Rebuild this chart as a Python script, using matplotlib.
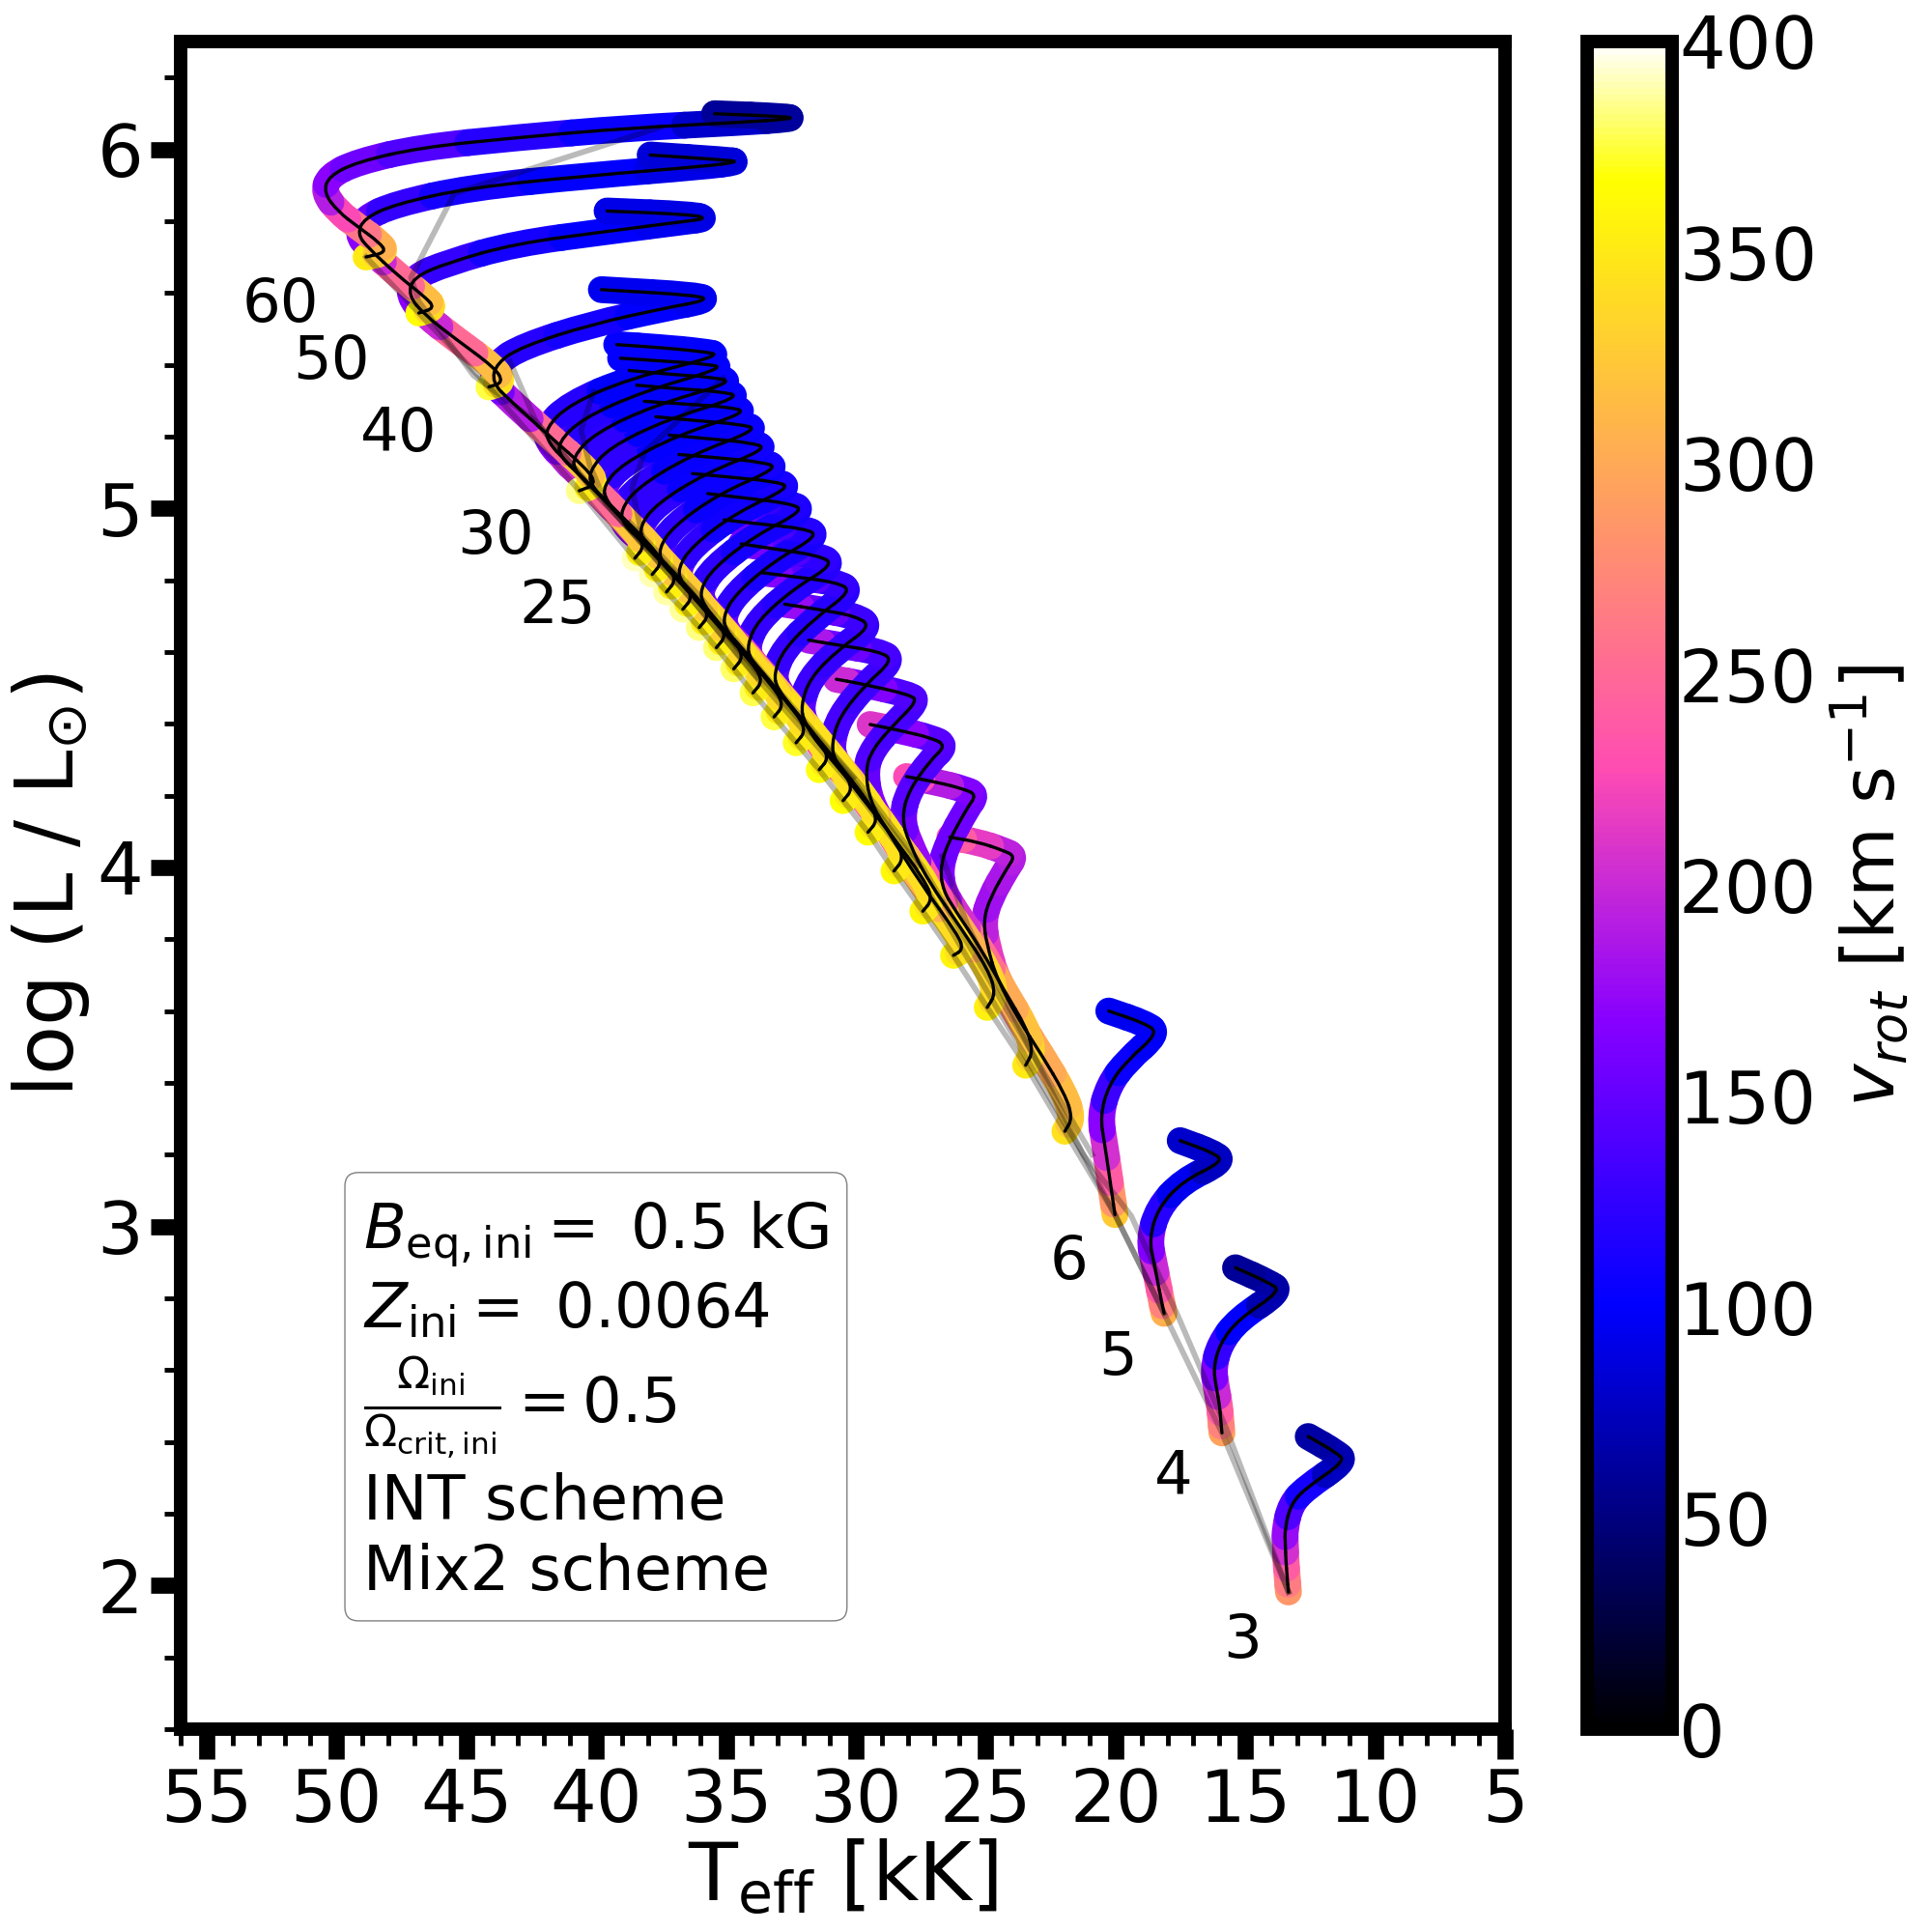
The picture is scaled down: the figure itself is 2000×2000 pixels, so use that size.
import numpy as np
import matplotlib
matplotlib.use("Agg")
import matplotlib.pyplot as plt
from matplotlib.path import Path
from matplotlib.collections import PathCollection
from matplotlib.colors import Normalize
from matplotlib.cm import ScalarMappable
from matplotlib.ticker import MultipleLocator

# Values: Teff [kK], log L, vrot [km/s] at hand-read knots of each track.
T3 = [13.34,13.39,13.44,13.46,13.48,13.25,12.68,11.16,11.49,12.58]
L3 = [1.982,2.025,2.071,2.115,2.157,2.226,2.271,2.346,2.370,2.415]
V3 = [285,265,240,205,175,140,110,75,70,65]
T4 = [15.90,15.95,15.99,16.12,16.23,15.99,15.28,13.63,14.10,15.38]
L4 = [2.425,2.463,2.501,2.552,2.604,2.672,2.741,2.820,2.844,2.885]
V4 = [295,270,240,200,165,125,100,70,65,60]
T5 = [18.13,18.25,18.37,18.52,18.70,18.37,17.42,15.85,16.23,17.51]
L5 = [2.758,2.800,2.844,2.900,2.964,3.050,3.126,3.181,3.205,3.239]
V5 = [305,270,235,200,165,120,95,75,75,80]
T6 = [20.02,20.14,20.26,20.42,20.59,20.26,19.55,18.36,18.84,20.26]
L6 = [3.033,3.092,3.153,3.230,3.308,3.394,3.462,3.538,3.565,3.600]
V6 = [325,285,240,205,170,130,105,98,98,95]
T7 = [21.95,21.65,21.95,22.87,23.72,24.57,24.94,25.09,24.83,24.17,23.87,24.31,25.31,26.38]
L7 = [3.265,3.302,3.369,3.481,3.575,3.690,3.781,3.851,3.915,3.999,4.031,4.047,4.071,4.084]
V7 = [345,325,315,300,270,240,215,195,180,185,190,195,215,240]
T8 = [23.46,23.17,23.43,24.28,25.20,26.20,26.64,26.75,26.49,25.72,25.35,25.83,26.86,28.05]
L8 = [3.449,3.487,3.554,3.656,3.776,3.883,3.937,3.996,4.063,4.165,4.202,4.218,4.237,4.253]
V8 = [350,335,320,300,255,205,180,165,155,155,158,165,190,225]
T9 = [24.94,24.61,24.90,25.94,27.23,27.97,28.23,27.97,27.12,26.53,27.05,28.34,29.45]
L9 = [3.610,3.648,3.715,3.830,3.964,4.071,4.138,4.213,4.299,4.339,4.360,4.382,4.398]
V9 = [355,340,335,305,235,175,155,145,140,140,145,170,210]
T10 = [26.24,25.87,26.05,27.53,28.79,29.45,29.64,29.34,28.53,27.64,27.90,29.90,30.75]
L10 = [3.755,3.771,3.811,3.958,4.103,4.183,4.272,4.331,4.398,4.462,4.481,4.513,4.524]
V10 = [358,345,340,310,235,170,150,140,135,135,140,165,200]
T11 = [27.42,27.05,27.34,28.71,30.19,30.82,30.93,30.64,29.64,28.57,29.08,30.75,31.82]
L11 = [3.878,3.910,3.964,4.098,4.232,4.299,4.344,4.419,4.508,4.577,4.601,4.620,4.633]
V11 = [360,348,342,312,230,170,148,135,130,130,135,155,185]
T12 = [28.53,28.16,28.45,29.82,31.41,32.00,32.11,31.78,30.67,29.41,30.01,31.48,32.74]
L12 = [3.990,4.023,4.076,4.205,4.339,4.406,4.451,4.526,4.607,4.671,4.700,4.719,4.733]
V12 = [362,350,345,315,230,168,145,130,125,125,130,150,175]
T13 = [29.53,29.16,29.45,30.93,32.41,33.04,33.15,32.78,31.56,30.15,30.75,32.22,33.63]
L13 = [4.098,4.130,4.178,4.312,4.441,4.500,4.540,4.607,4.695,4.770,4.794,4.808,4.821]
V13 = [365,352,345,315,225,165,145,128,120,120,125,145,165]
T14 = [30.49,30.12,30.45,31.86,33.41,34.07,34.18,33.78,32.41,30.82,31.48,32.96,34.41]
L14 = [4.186,4.218,4.266,4.392,4.526,4.580,4.620,4.687,4.775,4.845,4.869,4.885,4.901]
V14 = [368,352,345,315,225,165,145,125,118,118,122,140,160]
T15 = [31.41,31.04,31.37,32.78,34.33,35.00,35.11,34.63,33.15,31.41,32.04,33.52,35.07]
L15 = [4.272,4.304,4.352,4.473,4.607,4.660,4.700,4.762,4.853,4.925,4.944,4.955,4.968]
V15 = [370,352,345,312,220,165,145,122,112,112,118,135,155]
T16 = [32.30,31.93,32.22,33.70,35.26,35.88,36.00,35.48,33.89,31.97,32.59,34.07,35.70]
L16 = [4.347,4.379,4.424,4.548,4.679,4.733,4.773,4.834,4.923,4.995,5.014,5.027,5.041]
V16 = [372,352,342,310,220,165,145,122,110,110,115,128,145]
T17 = [33.15,32.78,33.11,34.55,36.11,36.73,36.85,36.29,34.63,32.48,33.15,34.74,36.29]
L17 = [4.419,4.451,4.497,4.615,4.743,4.794,4.834,4.896,4.987,5.059,5.075,5.086,5.097]
V17 = [375,352,340,305,215,165,148,122,108,108,112,122,135]
T18 = [33.96,33.59,33.89,35.37,36.85,37.47,37.59,37.03,35.26,32.96,33.63,35.18,36.81]
L18 = [4.486,4.518,4.561,4.679,4.802,4.848,4.888,4.950,5.041,5.113,5.129,5.140,5.150]
V18 = [378,352,338,300,215,165,148,122,106,106,110,118,125]
T19 = [34.70,34.33,34.63,36.11,37.59,38.21,38.32,37.70,35.81,33.37,34.07,35.55,37.18]
L19 = [4.553,4.585,4.628,4.741,4.861,4.909,4.950,5.011,5.097,5.167,5.183,5.193,5.204]
V19 = [380,352,335,295,210,165,148,122,105,105,108,115,118]
T20 = [35.37,35.00,35.29,36.77,38.25,38.95,39.06,38.40,36.36,33.74,34.44,36.11,37.70]
L20 = [4.612,4.644,4.684,4.794,4.909,4.955,4.995,5.059,5.148,5.220,5.234,5.244,5.255]
V20 = [382,354,330,285,210,168,150,122,104,104,106,110,112]
T21 = [36.03,35.66,35.96,37.40,38.88,39.62,39.73,38.99,36.85,34.15,34.89,36.48,38.14]
L21 = [4.668,4.700,4.741,4.848,4.960,5.022,5.062,5.124,5.204,5.268,5.282,5.290,5.298]
V21 = [384,354,328,280,205,168,150,122,103,103,105,108,108]
T22 = [36.66,36.29,36.59,38.07,39.51,40.17,40.28,39.51,37.29,34.41,35.18,36.85,38.44]
L22 = [4.719,4.751,4.792,4.899,5.011,5.062,5.102,5.169,5.247,5.311,5.325,5.333,5.343]
V22 = [386,355,325,270,205,168,150,122,102,102,104,106,106]
T23 = [37.29,36.92,37.22,38.69,40.10,40.80,40.91,40.06,37.77,34.70,35.48,37.11,38.73]
L23 = [4.767,4.800,4.840,4.947,5.054,5.102,5.142,5.209,5.287,5.351,5.365,5.373,5.384]
V23 = [388,355,322,265,200,168,150,122,102,102,103,104,104]
T24 = [37.84,37.47,37.77,39.25,40.65,41.36,41.47,40.54,38.21,35.03,35.81,37.40,39.06]
L24 = [4.816,4.848,4.888,4.995,5.094,5.142,5.183,5.250,5.325,5.392,5.402,5.410,5.418]
V24 = [390,356,322,258,200,168,150,120,101,101,102,103,103]
T25 = [38.51,38.14,38.44,39.80,41.21,41.84,41.95,41.02,38.69,35.15,35.92,37.59,39.21]
L25 = [4.861,4.893,4.934,5.035,5.134,5.183,5.223,5.290,5.362,5.426,5.437,5.448,5.456]
V25 = [392,356,322,250,200,168,150,120,100,100,101,102,102]
T30 = [40.65,39.99,40.36,41.80,43.28,44.02,43.83,42.83,40.21,37.33,35.74,36.03,39.80]
L30 = [5.049,5.067,5.110,5.201,5.298,5.351,5.405,5.451,5.512,5.558,5.579,5.593,5.609]
V30 = [385,350,320,250,190,160,135,120,110,100,95,95,95]
T40 = [44.13,43.57,43.91,45.42,46.61,47.23,47.05,45.72,43.13,39.51,36.59,35.74,36.29,39.58]
L40 = [5.338,5.351,5.392,5.472,5.539,5.593,5.643,5.684,5.737,5.772,5.799,5.807,5.818,5.828]
V40 = [375,345,315,250,200,170,150,125,110,100,95,92,90,92]
T50 = [46.83,46.20,46.61,47.60,48.79,49.19,48.94,47.75,44.87,40.21,35.89,34.48,35.00,37.92]
L50 = [5.544,5.558,5.590,5.646,5.726,5.764,5.807,5.847,5.893,5.927,5.952,5.965,5.970,5.984]
V50 = [365,340,315,250,200,170,150,125,110,100,92,88,85,85]
T60 = [48.86,48.08,48.34,49.19,49.93,50.49,50.30,49.19,46.75,43.13,38.77,34.41,32.41,32.67,35.44]
L60 = [5.700,5.713,5.740,5.785,5.826,5.879,5.925,5.965,6.005,6.032,6.059,6.075,6.085,6.091,6.099]
V60 = [350,325,305,260,225,190,170,155,140,120,105,80,65,62,60]

TRACKS = [(T3,L3,V3),(T4,L4,V4),(T5,L5,V5),(T6,L6,V6),(T7,L7,V7),(T8,L8,V8),(T9,L9,V9),
          (T10,L10,V10),(T11,L11,V11),(T12,L12,V12),(T13,L13,V13),(T14,L14,V14),(T15,L15,V15),
          (T16,L16,V16),(T17,L17,V17),(T18,L18,V18),(T19,L19,V19),(T20,L20,V20),(T21,L21,V21),
          (T22,L22,V22),(T23,L23,V23),(T24,L24,V24),(T25,L25,V25),(T30,L30,V30),(T40,L40,V40),
          (T50,L50,V50),(T60,L60,V60)]

# Isochrones (grey)
ISO_ZT = [13.34,15.90,18.13,20.02,21.95,23.46,24.94,26.24,27.42,28.53,29.53,30.49,31.41,32.30,33.15,33.96,34.70,35.37,36.03,36.66,37.29,37.84,38.51,40.65,44.13,46.83,48.86]
ISO_ZL = [1.982,2.425,2.758,3.033,3.265,3.449,3.610,3.755,3.878,3.990,4.098,4.186,4.272,4.347,4.419,4.486,4.553,4.612,4.668,4.719,4.767,4.816,4.861,5.049,5.338,5.544,5.700]
ISO_AT = [13.34,15.75,17.65,19.40,21.24,27.79,30.26,33.96,36.40,40.17,42.32,44.72,46.83,47.13,45.46,37.55]
ISO_AL = [1.982,2.440,2.760,3.030,3.200,4.004,4.237,4.540,4.754,5.057,5.242,5.370,5.576,5.643,5.877,6.061]
ISO_BT = [27.60,30.05,33.75,36.20,39.90,42.32,43.31]
ISO_BL = [4.004,4.237,4.540,4.754,5.030,5.242,5.408]
ISO_CT = [33.80,36.25,39.62,40.25,40.58,40.10]
ISO_CL = [4.530,4.740,5.014,5.121,5.217,5.325]
ISO_DT = [30.10,33.80,36.90,38.18,38.62,38.14,35.11]
ISO_DL = [4.250,4.550,4.815,4.907,5.057,5.156,5.362]
ISO_ET = [18.13,20.02,21.24,24.35,25.68,26.68]
ISO_EL = [2.758,3.033,3.200,3.648,3.835,4.031]
ISO_FT = [20.90,27.45,29.90,33.55,36.00,38.70]
ISO_FL = [3.200,4.004,4.237,4.540,4.754,4.960]
ISOS = [(ISO_ZT,ISO_ZL),(ISO_AT,ISO_AL),(ISO_BT,ISO_BL),(ISO_CT,ISO_CL),(ISO_DT,ISO_DL),(ISO_ET,ISO_EL),(ISO_FT,ISO_FL)]

MASS_LABELS = ["60","50","40","30","25","6","5","4","3"]
MASS_T = [52.16,50.2,47.6,43.86,41.5,21.8,19.93,17.75,15.1]
MASS_L = [5.565,5.407,5.204,4.92,4.725,2.9,2.632,2.3,1.846]

X_TICKS = [55,50,45,40,35,30,25,20,15,10,5]
Y_TICKS = [2,3,4,5,6]
CB_TICKS = [0,50,100,150,200,250,300,350,400]

FS = 54
W = 2000.0
fig = plt.figure(figsize=(20,20), dpi=100)
ax = fig.add_axes([187/W, 1-1790/W, (1558-187)/W, (1790-43)/W])
cax = fig.add_axes([1643/W, 1-1790/W, (1731-1643)/W, (1790-43)/W])
cmap = plt.get_cmap("gnuplot2")
norm = Normalize(0, 400)


def smooth_pieces(x, y):
    """Quadratic Bezier piece around each knot, joined at the middles of the chords."""
    pieces = []
    n = len(x)
    for i in range(n):
        x0, y0 = (x[0], y[0]) if i == 0 else ((x[i-1]+x[i])/2, (y[i-1]+y[i])/2)
        x2, y2 = (x[-1], y[-1]) if i == n-1 else ((x[i]+x[i+1])/2, (y[i]+y[i+1])/2)
        pieces.append(Path([(x0,y0),(x[i],y[i]),(x2,y2)], [Path.MOVETO, Path.CURVE3, Path.CURVE3]))
    return pieces


for t, l, v in TRACKS:
    pc = PathCollection(smooth_pieces(t, l), facecolors="none", edgecolors=cmap(norm(v)),
                        linewidths=20, zorder=2, capstyle="round", joinstyle="round")
    pc.set_transform(ax.transData)
    ax.add_collection(pc)
for t, l, v in TRACKS:
    pc = PathCollection(smooth_pieces(t, l), facecolors="none", edgecolors="black",
                        linewidths=2.4, zorder=3, capstyle="round")
    pc.set_transform(ax.transData)
    ax.add_collection(pc)
for t, l in ISOS:
    ax.plot(t, l, color="black", alpha=0.27, lw=4.2, zorder=4, solid_joinstyle="round")

for s, t, l in zip(MASS_LABELS, MASS_T, MASS_L):
    ax.text(t, l, s, fontsize=45, ha="center", va="center", zorder=5)

ax.set_xlim(56, 5)
ax.set_ylim(1.6, 6.3)
ax.set_xticks(X_TICKS)
ax.set_yticks(Y_TICKS)
ax.xaxis.set_minor_locator(MultipleLocator(1))
ax.yaxis.set_minor_locator(MultipleLocator(0.2))
ax.tick_params(which="major", length=22, width=12, labelsize=FS, pad=6)
ax.tick_params(which="minor", length=12, width=3.5)
for s in ax.spines.values():
    s.set_linewidth(10)
ax.set_xlabel(r"T$_{\rm eff}$ [kK]", fontsize=60, labelpad=0)
ax.set_ylabel(r"log (L / L$_{\odot}$)", fontsize=60, labelpad=4)

box = "\n".join([r"$B_{\rm eq,ini} =$ 0.5 kG", r"$Z_{\rm ini} =$ 0.0064",
                 r"$\frac{\Omega_{\rm ini}}{\Omega_{\rm crit,ini}} = 0.5$", "INT scheme", "Mix2 scheme"])
ax.text(0.138, 0.314, box, transform=ax.transAxes, fontsize=46, va="top", ha="left", zorder=6,
        linespacing=1.22,
        bbox=dict(boxstyle="round,pad=0.3,rounding_size=0.22", fc="white", ec="gray", lw=1))

cb = fig.colorbar(ScalarMappable(norm=norm, cmap=cmap), cax=cax, ticks=CB_TICKS)
cb.outline.set_linewidth(10)
cax.tick_params(length=0, labelsize=FS, pad=5)
cb.set_label(r"$v_{rot}$ [km s$^{-1}$]", fontsize=54, labelpad=8)

fig.savefig("out.png", dpi=100)
